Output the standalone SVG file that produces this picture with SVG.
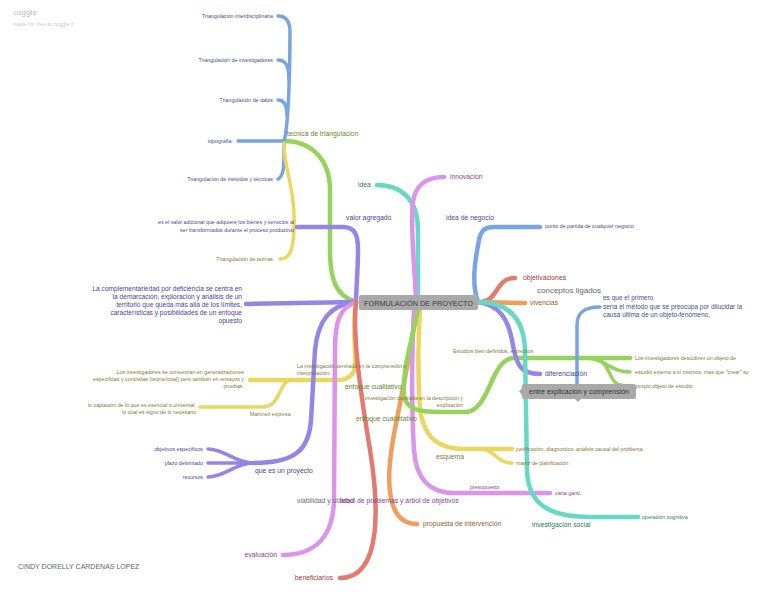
<svg xmlns="http://www.w3.org/2000/svg" width="768" height="598" viewBox="0 0 768 598">
<style>
text{font-family:"Liberation Sans",Arial,sans-serif}
.c{fill:none;stroke-linecap:round;stroke-linejoin:round}
.w1{stroke-width:4.5}
.w2{stroke-width:3.5}
.blue{stroke:#79a3e3}
.green{stroke:#96d35c}
.yellow{stroke:#ead75f}
.purple{stroke:#9486e6}
.pink{stroke:#dc94ea}
.red{stroke:#e27a70}
.orange{stroke:#ee9f5e}
.teal{stroke:#66d9c4}
.s{font-size:5.3px}
.m{font-size:6.8px}
.tb{fill:#3e4f8c}
.tg{fill:#5f8a2c}
.ty{fill:#857734}
.tp{fill:#4c3f9c}
.tk{fill:#8a3e96}
.tr{fill:#9a3c3c}
.to{fill:#9a5a2c}
.tt{fill:#2f7868}
.r{text-anchor:end}
</style>
<rect width="768" height="598" fill="#ffffff"/>
<g id="watermark">
<text x="13" y="15" font-size="8" fill="#bdbdbd">coggle</text>
<text x="13" y="26" font-size="5.5" fill="#cccccc">made for free at coggle.it</text>
</g>
<g id="connectors">
<!-- triangulation -->
<path class="c w1 green" d="M356,302 C336,296 330,280 330,250 L330,190 C330,160 312,141 284,141"/>
<path class="c w2 blue" d="M284,141 C289,125 290,60 290,32 Q290,16 278,16"/>
<path class="c w2 blue" d="M289,80 C289,66 286,60 278,60"/>
<path class="c w2 blue" d="M287,116 C287,106 285,100 278,100"/>
<path class="c w2 blue" d="M284,141 L238,141"/>
<path class="c w2 blue" d="M284,143 C284,160 285,176 278,179"/>
<path class="c w2 yellow" d="M284,143 C283,165 296,190 294,230 C293,250 290,259 280,259"/>
<!-- valor agregado -->
<path class="c w1 purple" d="M356,302 C356,290 358,270 358,250 C358,235 355,227 343,227 L297,227"/>
<!-- complementariedad -->
<path class="c w1 purple" d="M356,302 L246,304"/>
<!-- enfoque cualitativo -->
<path class="c w1 yellow" d="M356,302 C352,322 356,350 355,366 Q353,380 338,380 L250,380"/>
<path class="c w2 yellow" d="M292,380 C278,380 282,407 262,407 L200,407"/>
<!-- que es un proyecto -->
<path class="c w1 purple" d="M356,302 C330,305 318,320 315,350 L311,420 C309,450 295,463 253,463"/>
<path class="c w2 purple" d="M253,463 C235,463 225,449 208,449"/>
<path class="c w2 purple" d="M253,463 L208,463"/>
<path class="c w2 purple" d="M253,463 C235,463 225,477 208,477"/>
<!-- evaluacion -->
<path class="c w1 pink" d="M356,302 C340,308 335,320 335,350 L334,500 C333,540 312,555 283,555"/>
<!-- beneficiarios -->
<path class="c w1 red" d="M356,302 C352,340 362,400 370,450 C378,500 384,578 340,578"/>
<!-- propuesta -->
<path class="c w1 orange" d="M416,309 C412,350 400,400 393,440 C386,480 386,524 417,524"/>
<!-- idea / innovacion -->
<path class="c w1 teal" d="M418,298 L418,230 C418,200 402,185 377,185"/>
<path class="c w1 pink" d="M416,298 C414,260 410,222 413,202 C415,186 426,177 444,177"/>
<!-- presupuesto -->
<path class="c w1 pink" d="M414,309 C412,350 411,400 414,450 C416,480 430,493 455,493 L550,493"/>
<!-- esquema -->
<path class="c w1 yellow" d="M420,309 C418,340 418,380 420,410 C425,440 440,449 465,449 L512,449"/>
<path class="c w2 yellow" d="M480,449 C495,449 496,463 512,463"/>
<!-- enfoque cuantitativo -->
<path class="c w1 green" d="M418,310 C412,340 402,370 404,395 C406,410 420,412 440,412 L465,412 C490,412 490,360 513,358 L630,358"/>
<path class="c w2 green" d="M585,358 C605,358 610,372 630,372"/>
<path class="c w2 green" d="M595,359 C612,362 608,385 622,385"/>
<!-- right side -->
<path class="c w1 blue" d="M478,302 C470,280 477,252 479,240 C481,230 485,227 495,227 L540,227"/>
<path class="c w1 red" d="M478,302 C500,302 494,278 515,278"/>
<path class="c w1 orange" d="M478,302 L525,303"/>
<path class="c w1 purple" d="M478,302 C500,305 508,320 512,340 C516,365 520,374 540,374"/>
<path class="c w1 teal" d="M478,302 C510,302 524,320 525,350 L527,470 C528,505 550,517 590,517 L638,517"/>
<path class="c w2 blue" d="M577,385 L577,325 C577,312 585,307 600,307"/>
</g>
<g id="n-tecnica"><text x="287" y="136" class="m tg">tecnica de triangulacion</text></g>
<g id="n-t1"><text x="273" y="18" class="s tb r">Triangulación interdisciplinaria</text></g>
<g id="n-t2"><text x="273" y="62" class="s tb r">Triangulación de investigadores</text></g>
<g id="n-t3"><text x="273" y="102" class="s tb r">Triangulación de datos</text></g>
<g id="n-topo"><text x="233" y="143" class="s tb r">topografía:</text></g>
<g id="n-t4"><text x="273" y="181" class="s tb r">Triangulación de métodos y técnicas</text></g>
<g id="n-t5"><text x="273" y="261" class="s ty r">Triangulación de teorías</text></g>
<g id="n-valor"><text x="346" y="220" class="m tp">valor agregado</text></g>
<g id="n-valor-def"><text class="s tp r"><tspan x="294" y="224">es el valor adicional que adquiere los bienes y servicios al</tspan><tspan x="294" y="232">ser transformados durante el proceso productivo</tspan></text></g>
<g id="n-compl"><text class="tp r" font-size="6.6"><tspan x="242" y="291">La complementariedad por deficiencia se centra en</tspan><tspan x="242" y="299">la demarcación, exploración y análisis de un</tspan><tspan x="242" y="307">territorio que queda más allá de los límites,</tspan><tspan x="242" y="315">características y posibilidades de un enfoque</tspan><tspan x="242" y="323">opuesto</tspan></text></g>
<g id="n-cualit"><text x="345" y="389" class="m tg">enfoque cualitativo</text></g>
<g id="n-inv-comp"><text class="s ty"><tspan x="297" y="368">La investigación centrada en la comprensión e</tspan><tspan x="297" y="375">interpretación.</tspan></text></g>
<g id="n-los-inv"><text class="s ty r"><tspan x="244" y="374">Los investigadores se concentran en generalizaciones</tspan><tspan x="244" y="381">específicas y concretas (teoría local) pero también en ensayos y</tspan><tspan x="244" y="388">pruebas.</tspan></text></g>
<g id="n-martinez"><text x="250" y="416" class="s ty">Martinez expresa</text></g>
<g id="n-captacion"><text class="s ty r"><tspan x="196" y="407">lo captación de lo que es esencial o universal,</tspan><tspan x="196" y="414">lo cual es signo de lo necesario</tspan></text></g>
<g id="n-proyecto"><text x="255" y="473" class="m tp">que es un proyecto</text></g>
<g id="n-obj"><text x="203" y="451" class="s tp r">objetivos específicos</text></g>
<g id="n-plazo"><text x="203" y="465" class="s tp r">plazo delimitado</text></g>
<g id="n-recursos"><text x="203" y="479" class="s tp r">recursos</text></g>
<g id="n-viab"><text x="297" y="503" class="m" fill="#6a6a7a">viabilidad y utilidad</text></g>
<g id="n-arbol"><text x="340" y="503" class="m tk">árbol de problemas y árbol de objetivos</text></g>
<g id="n-eval"><text x="277" y="557" class="m tk r">evaluación</text></g>
<g id="n-benef"><text x="333" y="580" class="m tr r">beneficiarios</text></g>
<g id="n-propuesta"><text x="423" y="526" class="m to">propuesta de intervención</text></g>
<g id="n-idea"><text x="358" y="187" class="m tt">idea</text></g>
<g id="n-innov"><text x="450" y="179" class="m tk">innovacion</text></g>
<g id="n-presup"><text x="470" y="489" class="s tk">presupuesto</text></g>
<g id="n-gantt"><text x="555" y="495" class="s tk">carta gantt</text></g>
<g id="n-esquema"><text x="436" y="459" class="m ty">esquema</text></g>
<g id="n-just"><text x="516" y="451" class="s ty">justificación, diagnostico, análisis causal del problema</text></g>
<g id="n-matriz"><text x="516" y="465" class="s ty">matriz de planificación</text></g>
<g id="n-cuantit"><text x="356" y="421" class="m tg">enfoque cuantitativo</text></g>
<g id="n-inv-desc"><text class="s ty r"><tspan x="463" y="400">investigación centrada en la descripción y</tspan><tspan x="463" y="407">explicación</tspan></text></g>
<g id="n-estudios"><text x="453" y="353" class="s ty">Estudios bien definidos, estrechos</text></g>
<g id="n-los-desc"><text x="635" y="360" class="s ty">Los investigadores descubren un objeto de</text></g>
<g id="n-estudio-ext"><text x="635" y="374" class="s ty">estudio externo a sí mismos, más que "crear" su</text></g>
<g id="n-propio"><text x="636" y="388" class="s ty">propio objeto de estudio.</text></g>
<g id="n-negocio"><text x="446" y="220" class="m tb">idea de negocio</text></g>
<g id="n-punto"><text x="545" y="228" class="s tb">punto de partida de cualquier negocio</text></g>
<g id="n-objet"><text x="523" y="280" class="m tr">objetivaciones</text></g>
<g id="n-viv"><text x="530" y="305" class="m to">vivencias</text></g>
<g id="n-conceptos"><text x="537" y="293" font-size="8" fill="#666666">conceptos ligados</text></g>
<g id="n-dif"><text x="545" y="376" class="m tp">diferenciación</text></g>
<g id="n-social"><text x="532" y="527" class="m tt">investigación social</text></g>
<g id="n-operacion"><text x="642" y="519" class="s tt">operación cognitiva</text></g>
<g id="n-primero"><text class="tb" font-size="6.5"><tspan x="603" y="300">es que el primero</tspan><tspan x="603" y="309">sería el método que se preocupa por dilucidar la</tspan><tspan x="603" y="317">causa última de un objeto-fenómeno,</tspan></text></g>
<g id="n-entre">
<rect x="522" y="384" width="114" height="15" rx="2" fill="#a9a9a9"/>
<path d="M522,388 L519,391.5 L522,395 Z" fill="#a9a9a9"/>
<path d="M575,399 L578,402 L581,399 Z" fill="#a9a9a9"/>
<text x="579" y="394" font-size="7" fill="#333333" text-anchor="middle">entre explicación y comprensión</text>
</g>
<g id="n-root">
<rect x="359" y="295" width="119" height="15" rx="2" fill="#a9a9a9"/>
<text x="418.5" y="305.5" font-size="7.3" fill="#3f3f3f" text-anchor="middle">FORMULACIÓN DE PROYECTO</text>
</g>
<g id="n-author"><text x="18" y="569" font-size="7" fill="#666666">CINDY DORELLY CARDENAS LOPEZ</text></g>
</svg>
